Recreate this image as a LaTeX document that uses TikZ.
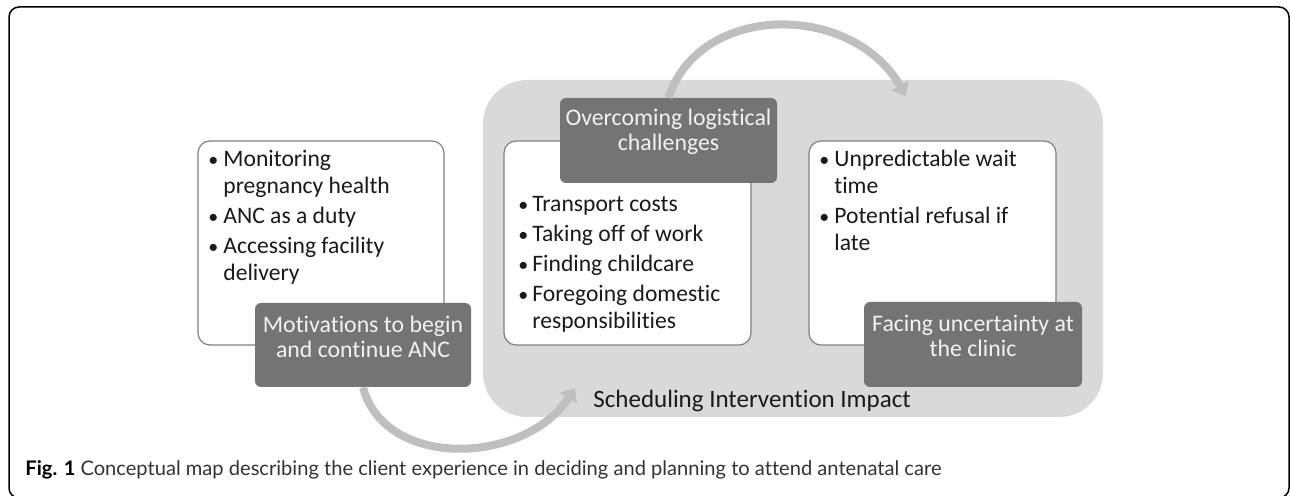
\documentclass[tikz,border=0pt]{standalone}
\usepackage{fontspec}
\setmainfont{Carlito}[Ligatures={NoCommon,NoRare}]
\newfontfamily\capfont{Lato}[Ligatures={NoCommon,NoRare}]
\usetikzlibrary{arrows.meta,fit}
\definecolor{darkfill}{HTML}{747474}
\definecolor{graybg}{HTML}{D9D9D9}
\definecolor{arrowgray}{HTML}{BFBFBF}
\definecolor{boxline}{HTML}{808080}
\definecolor{darktext}{HTML}{F2F2F2}
\definecolor{bodytext}{HTML}{1A1A1A}
\definecolor{captext}{HTML}{333333}
\newcommand{\bul}{{\fontsize{10}{10}\selectfont\textbullet}}
\begin{document}
\begin{tikzpicture}[x=0.5pt,y=-0.5pt,
  groupbox/.style={fill=graybg, rounded corners=22pt, inner sep=0pt},
  whitebox/.style={draw=boxline, line width=0.6pt, fill=white, rounded corners=6pt, inner sep=0pt},
  darkbox/.style={fill=darkfill, rounded corners=3pt, inner sep=0pt, text=darktext, align=center,
    font=\fontsize{11.9}{12.5}\selectfont},
  bullets/.style={anchor=base west, inner sep=0pt, text=bodytext, font=\fontsize{11.8}{13.5}\selectfont},
  flow/.style={draw=arrowgray, line width=4pt, -{Triangle[length=6pt,width=9.5pt]}}]
\useasboundingbox (0,0) rectangle (1290,496);
\begin{scope}
\clip (0,0) rectangle (1290,496);
\draw[line width=0.75pt, rounded corners=5pt] (9,7) rectangle (1289,498);
\end{scope}
% group background
\node[groupbox, fit={(483,80) (1103,417)}] (group) {};
\node[anchor=base west, inner sep=0pt, text=bodytext, font=\fontsize{12.5}{14}\selectfont] (sched) at (593,408) {Scheduling Intervention Impact};
% white boxes
\node[whitebox, fit={(198,141) (444,345)}] (lbox) {};
\node[whitebox, fit={(504,141) (751,345)}] (cbox) {};
\node[whitebox, fit={(809,141) (1056,345)}] (rbox) {};
% bullet texts
\node[bullets] (ltext) at (208,167) {\begin{tabular}[t]{@{}p{7.5pt}@{}l@{}}
\bul & Monitoring\\ & pregnancy health\\[1.5pt]
\bul & ANC as a duty\\[1.5pt]
\bul & Accessing facility\\ & delivery\end{tabular}};
\node[bullets] (ctext) at (518,212) {\begin{tabular}[t]{@{}p{7pt}@{}l@{}}
\bul & Transport costs\\[1.5pt]
\bul & Taking off of work\\[1.5pt]
\bul & Finding childcare\\[1.5pt]
\bul & Foregoing domestic\\ & responsibilities\end{tabular}};
\node[bullets] (rtext) at (819,167) {\begin{tabular}[t]{@{}p{7.5pt}@{}l@{}}
\bul & Unpredictable wait\\ & time\\[1.5pt]
\bul & Potential refusal if\\ & late\end{tabular}};
% arrows
\coordinate (a1end) at (575,388);
\coordinate (a2end) at (906,96);
% dark boxes
\node[darkbox, fit={(255,303) (471,387)}] (mot) {Motivations to begin\\and continue ANC};
\node[darkbox, fit={(560,98) (777,183)}] (over) {Overcoming logistical\\challenges};
\node[darkbox, fit={(864,302) (1082,387)}] (face) {Facing uncertainty at\\the clinic};
\draw[flow] (mot.south) .. controls (385,470) and (525,465) .. (a1end);
\draw[flow] (over.north) .. controls (700,2) and (852,2) .. (a2end);
% caption
\node[anchor=base west, inner sep=0pt, text=captext] (cap) at (25,475)
  {\resizebox{458pt}{!}{\capfont\fontsize{9.6}{11}\selectfont\textbf{\color{black}Fig. 1} Conceptual map describing the client experience in deciding and planning to attend antenatal care}};
\end{tikzpicture}
\end{document}
